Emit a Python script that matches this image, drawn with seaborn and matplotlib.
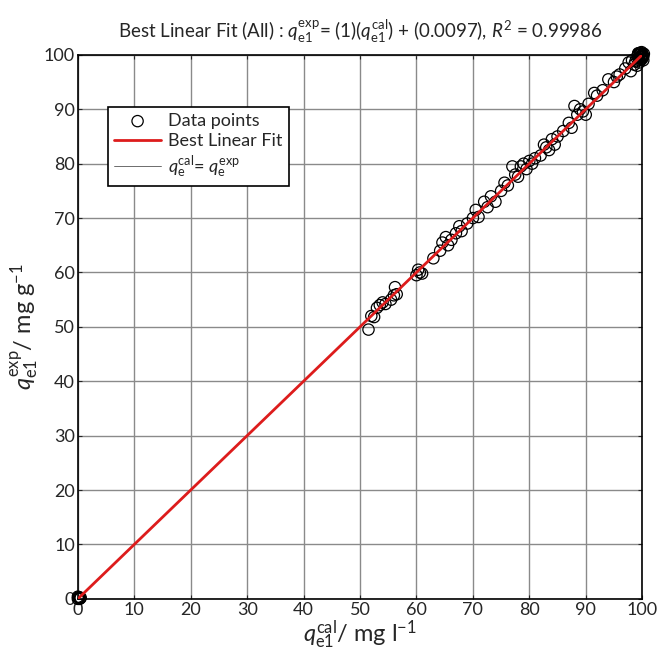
import numpy as np
import pandas as pd
import matplotlib
matplotlib.use("Agg")
import matplotlib.pyplot as plt
import seaborn as sns

# data
q_cal = [0, 0.2, 0.4, 0.1, 0.3, 0.5, 0.0,
         51.5, 52, 52.5, 53, 53.5, 54, 54.5, 55.5, 56, 56.2, 56.5,
         60, 60.3, 60.6, 61,
         63, 64.2, 64.6, 65.2, 65.6, 66.2, 67, 67.6, 68, 69, 70, 70.5, 71,
         72, 72.6, 73.2, 74, 75, 75.6, 76.2, 77, 77.5, 78, 78.5, 79, 79.5,
         80, 80.5, 81, 82, 82.6, 83, 83.5, 84, 84.5, 85, 86, 87, 87.5,
         88, 88.5, 89, 89.5, 90, 90.5, 91.5, 92, 93, 94, 95, 95.5, 96,
         97, 97.6, 98, 98.2, 98.6, 99, 99.1, 99.3, 99.5, 99.6, 99.8, 100,
         100, 99.7, 99.9, 100.2, 99.4, 98.8, 99.2, 99.6, 100.1, 99.8, 100.3,
         99.5, 99.9, 100.0, 99.3, 100.2]
q_exp = [0, 0.2, 0.1, 0.3, 0.0, 0.2, 0.4,
         49.5, 52, 51.8, 53.5, 54, 54.5, 54.2, 55, 55.8, 57.3, 56,
         59.5, 60.5, 60, 59.8,
         62.6, 64, 65.5, 66.5, 65, 66, 67.2, 68.5, 67.6, 69, 70, 71.5, 70.2,
         73, 72, 74, 73, 75, 76.5, 76, 79.5, 78, 77.6, 79.5, 80, 79,
         80.5, 80, 81, 81.5, 83.5, 83, 82.5, 84.5, 83.5, 85, 86, 87.5, 86.6,
         90.6, 89, 90, 89.6, 89, 91, 93, 92.5, 93.5, 95.5, 95, 96, 96.4,
         97.5, 98.6, 97, 99, 98.2, 99.5, 98, 100.2, 99, 100, 99.6, 100,
         99.3, 100.4, 99.8, 99.7, 99.4, 98.8, 99.9, 100.3, 100.1, 99.1, 100.2,
         98.6, 100.5, 99.5, 100.3, 99.0]
fit_x = [0, 100]
fit_y = [0.0097, 100.0097]
ticks = list(range(0, 101, 10))

sns.set_style("ticks")
plt.rcParams["font.family"] = ["Lato", "DejaVu Sans"]
plt.rcParams["mathtext.fontset"] = "custom"
plt.rcParams["mathtext.rm"] = "Lato"
plt.rcParams["mathtext.it"] = "Lato:italic"

fig = plt.figure(figsize=(6.6, 6.61), dpi=100)
ax = fig.add_axes([0.118, 0.094, 0.855, 0.823])

pts = pd.DataFrame({"x": q_cal, "y": q_exp})
sns.scatterplot(data=pts, x="x", y="y", ax=ax, marker="o", s=66,
                facecolors="none", edgecolor="black", linewidth=0.9,
                label="Data points", zorder=3, clip_on=False)
sns.lineplot(x=fit_x, y=fit_y, ax=ax, color="#dd1c1c", linewidth=2,
             label="Best Linear Fit", zorder=4)
sns.lineplot(x=[0, 100], y=[0, 100], ax=ax, color="#555555", linewidth=0.6,
             label=r"$q_{\mathrm{e}}^{\mathrm{cal}}$= $q_{\mathrm{e}}^{\mathrm{exp}}$", zorder=2)

ax.set_xlim(0, 100)
ax.set_ylim(0, 100)
ax.set_xticks(ticks)
ax.set_yticks(ticks)
ax.grid(True, color="#8a8a8a", linewidth=1)
ax.set_axisbelow(True)
ax.tick_params(direction="in", top=True, right=True, length=3,
               labelsize=13, width=0.8, pad=2)
for s in ax.spines.values():
    s.set_linewidth(1.2)
    s.set_color("black")

ax.set_xlabel(r"$q_{\mathrm{e1}}^{\mathrm{cal}}$/ mg l$^{-1}$", fontsize=17, labelpad=0)
ax.set_ylabel(r"$q_{\mathrm{e1}}^{\mathrm{exp}}$/ mg g$^{-1}$", fontsize=17, labelpad=2)
ax.set_title(r"Best Linear Fit (All) : $q_{\mathrm{e1}}^{\mathrm{exp}}$= (1)($q_{\mathrm{e1}}^{\mathrm{cal}}$) + (0.0097), $R^{2}$ = 0.99986",
             fontsize=13.5, pad=12)

leg = ax.legend(loc="upper left", bbox_to_anchor=(0.053, 0.905), fontsize=13,
                frameon=True, fancybox=False, edgecolor="black",
                borderpad=0.35, labelspacing=0.25, handlelength=2.6,
                handletextpad=0.4, borderaxespad=0)
leg.get_frame().set_linewidth(1.2)
leg.get_frame().set_alpha(1)

fig.savefig("out.png", dpi=100)
